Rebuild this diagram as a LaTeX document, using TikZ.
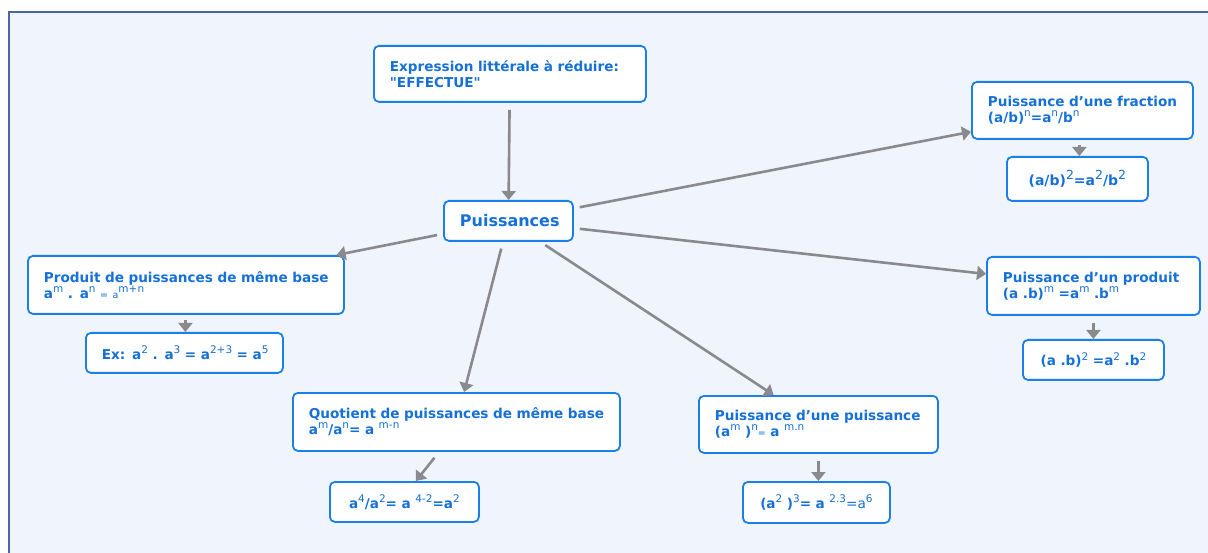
\documentclass[tikz,border=0pt]{standalone}
\usepackage{fontspec}
\setmainfont{DejaVu Sans}[Ligatures=TeXOff]
\usetikzlibrary{arrows.meta,calc}
\definecolor{bluetxt}{HTML}{1570D8}
\definecolor{blueline}{HTML}{1A7FE8}
\definecolor{framec}{HTML}{4A68A0}
\definecolor{bgc}{HTML}{F0F4FD}
\definecolor{arrc}{HTML}{8A8A8E}
\newcommand\up[1]{\raisebox{0.42em}{\fontsize{10.5}{10.5}\selectfont\mdseries #1}}
\newcommand\upL[1]{\raisebox{0.42em}{\fontsize{12.5}{12.5}\selectfont\mdseries #1}}
\newcommand\sm[1]{{\fontsize{9.5}{9.5}\selectfont\mdseries #1}}
\newcommand\lline[1]{\mbox{#1}}
\begin{document}
\begin{tikzpicture}[x=1pt,y=1pt,
  box/.style={draw=blueline, line width=1.8pt, rounded corners=5pt, fill=white,
    text=bluetxt, font=\fontsize{13.6}{16}\selectfont\bfseries,
    inner xsep=16pt, inner ysep=0pt, align=left, anchor=north west},
  cbox/.style={box, align=center},
  conn/.style={draw=arrc, line width=2.6pt, -{Triangle[width=14pt,length=9pt]}}]

\useasboundingbox (0,0) rectangle (1208,-553);
\fill[bgc] (9,-12) rectangle (1215,-560);
\draw[framec, line width=1.5pt] (9,-560) -- (9,-12) -- (1215,-12);

% boxes
\node[box, minimum width=272pt, minimum height=56pt, text width=240pt] (E) at (373,-45)
  {\lline{Expression littérale à réduire:}\\\lline{"EFFECTUE"}};
\node[cbox, minimum width=129pt, minimum height=40pt, text width=97pt,
  font=\fontsize{16}{18}\selectfont\bfseries] (P) at (443,-200) {Puissances};

\node[box, minimum width=221pt, minimum height=57pt, text width=189pt] (F) at (971,-81)
  {\lline{Puissance d’une fraction}\\\lline{(a/b)\up{n}=a\up{n}/b\up{n}}};
\node[cbox, minimum width=141pt, minimum height=44pt, text width=109pt,
  font=\fontsize{14}{16}\selectfont\bfseries] (Fx) at (1006,-156)
  {\lline{(a/b)\upL{2}=a\upL{2}/b\upL{2}}};

\node[box, minimum width=316pt, minimum height=58pt, text width=284pt] (Pr) at (27,-255)
  {\lline{Produit de puissances de même base}\\\lline{a\up{m} . a\up{n} \sm{= a}\up{m+n}}};
\node[cbox, minimum width=197pt, minimum height=40pt, text width=165pt] (Prx) at (85,-332)
  {\lline{Ex: a\up{2} . a\up{3} = a\up{2+3} = a\up{5}}};

\node[box, minimum width=327pt, minimum height=58pt, text width=295pt] (Q) at (292,-392)
  {\lline{Quotient de puissances de même base}\\\lline{a\up{m}/a\up{n}= a \up{m-n}}};
\node[cbox, minimum width=149pt, minimum height=40pt, text width=117pt] (Qx) at (329,-481)
  {\lline{a\up{4}/a\up{2}= a \up{4-2}=a\up{2}}};

\node[box, minimum width=239pt, minimum height=57pt, text width=207pt] (PP) at (698,-395)
  {\lline{Puissance d’une puissance}\\\lline{(a\up{m} )\up{n}\sm{= }a \up{m.n}}};
\node[cbox, minimum width=147pt, minimum height=41pt, text width=115pt] (PPx) at (742,-481)
  {\lline{(a\up{2} )\up{3}= a \up{2.3}{\mdseries=a\up{6}}}};

\node[box, minimum width=213pt, minimum height=58pt, text width=181pt] (AB) at (986,-256)
  {\lline{Puissance d’un produit}\\\lline{(a .b)\up{m} =a\up{m} .b\up{m}}};
\node[cbox, minimum width=141pt, minimum height=40pt, text width=109pt] (ABx) at (1022,-339)
  {\lline{(a .b)\up{2} =a\up{2} .b\up{2}}};

% connectors
\draw[conn, shorten <=7pt] (E) -- (P);
\draw[conn, shorten <=6pt] (P) -- (F);
\draw[conn, shorten <=6pt] (P) -- (Pr);
\draw[conn, shorten <=7pt] (P) -- (Q);
\draw[conn, shorten <=6pt] (P) -- (PP);
\draw[conn, shorten <=6pt] (P) -- (AB);

\draw[conn, shorten <=5pt] ([xshift=2pt]Fx.north |- F.south) -- ([xshift=2pt]Fx.north);
\draw[conn, shorten <=5pt] ([xshift=1pt]Prx.north |- Pr.south) -- ([xshift=1pt]Prx.north);
\draw[conn] ($(Q.south)+(-22,-6)$) -- ([xshift=11.5pt]Qx.north);
\draw[conn, shorten <=7pt] ([xshift=2pt]PPx.north |- PP.south) -- ([xshift=2pt]PPx.north);
\draw[conn, shorten <=7pt] (ABx.north |- AB.south) -- (ABx.north);
\end{tikzpicture}
\end{document}
